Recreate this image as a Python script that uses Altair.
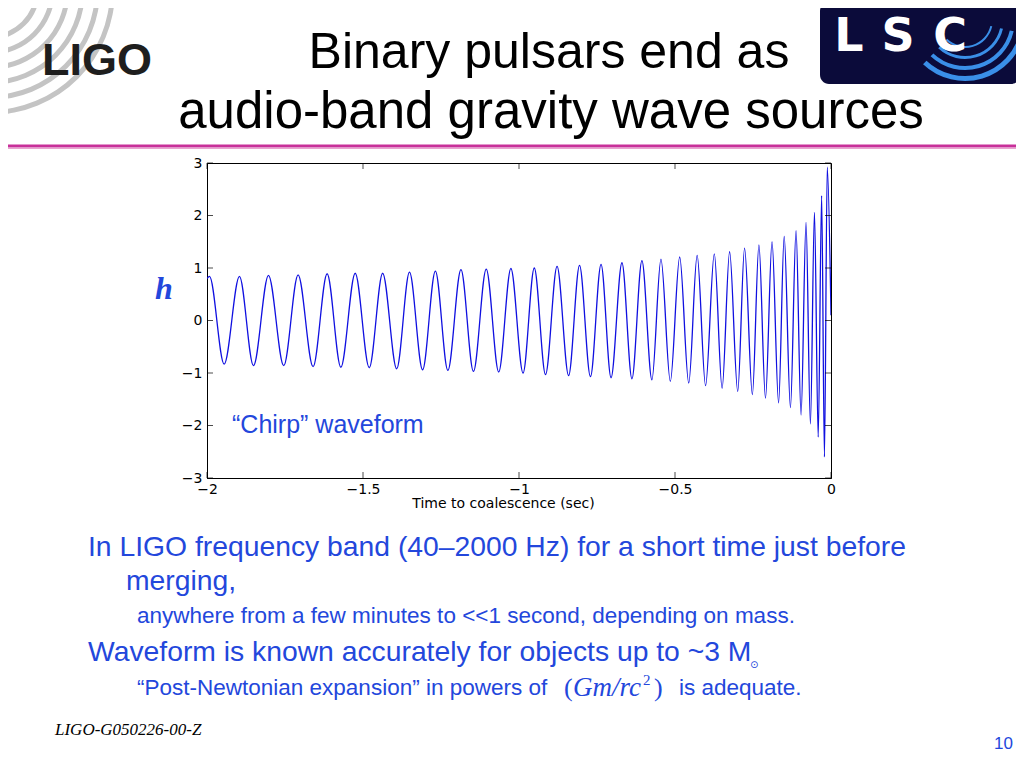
import altair as alt
import pandas as pd

# ---- data (local extrema of the chirp waveform) ----
t_ext = [-2.000, -1.992, -1.945, -1.896, -1.851, -1.803, -1.754, -1.708, -1.660, -1.615,
         -1.571, -1.525, -1.480, -1.437, -1.392, -1.351, -1.309, -1.268, -1.228, -1.186,
         -1.146, -1.105, -1.065, -1.026, -0.987, -0.951, -0.915, -0.878, -0.841, -0.806,
         -0.771, -0.737, -0.705, -0.670, -0.638, -0.606, -0.574, -0.545, -0.515, -0.485,
         -0.456, -0.429, -0.402, -0.374, -0.349, -0.325, -0.299, -0.277, -0.252, -0.231,
         -0.210, -0.189, -0.168, -0.150, -0.130, -0.112, -0.096, -0.080, -0.066, -0.053,
         -0.041, -0.030, -0.021, -0.012, 0.000]
h_ext = [0.80, 0.84, -0.83, 0.84, -0.86, 0.86, -0.86, 0.87, -0.88, 0.89,
         -0.89, 0.90, -0.90, 0.90, -0.92, 0.92, -0.94, 0.94, -0.95, 0.97,
         -0.97, 0.98, -0.98, 0.99, -1.00, 1.00, -1.03, 1.03, -1.05, 1.05,
         -1.07, 1.07, -1.09, 1.10, -1.11, 1.14, -1.13, 1.17, -1.16, 1.21,
         -1.19, 1.24, -1.24, 1.27, -1.29, 1.31, -1.35, 1.38, -1.41, 1.44,
         -1.48, 1.50, -1.57, 1.60, -1.66, 1.71, -1.80, 1.87, -1.97, 2.06,
         -2.22, 2.38, -2.60, 2.92, 0.10]
x_ticks = [-2, -1.5, -1, -0.5, 0]
y_ticks = [-3, -2, -1, 0, 1, 2, 3]
ligo_radii = [45, 60, 75, 90, 105, 120]
lsc_radii = [26, 36, 46, 56]

BLUE = "#2347dc"
SANS = "Liberation Sans"
OX, OY = 207, 163  # page position of the plot origin

wave = pd.DataFrame({"t": t_ext, "h": h_ext})

xscale = alt.Scale(domain=[-2, 0], nice=False, zero=False)
yscale = alt.Scale(domain=[-3, 3], nice=False, zero=False)

line = alt.Chart(wave).mark_line(
    interpolate="monotone", color="#1010e0", strokeWidth=1.3, clip=True
).encode(
    x=alt.X("t:Q", scale=xscale, axis=alt.Axis(
        values=x_ticks, format="~g", tickSize=0, labelPadding=4, grid=False,
        labelFont="DejaVu Sans", labelFontSize=14, labelColor="black", labelFlush=False,
        domainColor="black", title="Time to coalescence (sec)", titleFont="DejaVu Sans",
        titleFontSize=14, titleFontWeight="normal", titleColor="black", titlePadding=0,
        titleX=296, titleAlign="center")),
    y=alt.Y("h:Q", scale=yscale, axis=alt.Axis(
        values=y_ticks, format="~g", tickSize=0, labelPadding=5, grid=False,
        labelFont="DejaVu Sans", labelFontSize=14, labelColor="black", labelFlush=False,
        domainColor="black", title="")),
)

xt = pd.DataFrame({"v": x_ticks})
yt = pd.DataFrame({"v": y_ticks})
ticks = [
    alt.Chart(xt).mark_tick(orient="vertical", size=6, thickness=1, color="black").encode(
        x=alt.X("v:Q", scale=xscale), y=alt.value(312)),
    alt.Chart(xt).mark_tick(orient="vertical", size=6, thickness=1, color="black").encode(
        x=alt.X("v:Q", scale=xscale), y=alt.value(3)),
    alt.Chart(yt).mark_tick(orient="horizontal", size=6, thickness=1, color="black").encode(
        y=alt.Y("v:Q", scale=yscale), x=alt.value(3)),
    alt.Chart(yt).mark_tick(orient="horizontal", size=6, thickness=1, color="black").encode(
        y=alt.Y("v:Q", scale=yscale), x=alt.value(621)),
]

one = pd.DataFrame({"s": [""]})


def txt(s, x, y, size, color="black", font=SANS, style="normal", weight="normal",
        align="left", baseline="alphabetic"):
    return alt.Chart(pd.DataFrame({"s": [s]})).mark_text(
        fontSize=size, font=font, fontStyle=style, fontWeight=weight, color=color,
        align=align, baseline=baseline
    ).encode(text="s:N", x=alt.value(x - OX), y=alt.value(y - OY))


def ring(cx, cy, r, w, t1, t2, color):
    return alt.Chart(one).mark_arc(
        theta=t1, theta2=t2, radius=r, radius2=r + w, color=color
    ).encode(x=alt.value(cx - OX), y=alt.value(cy - OY))


deco = []
# LIGO logo arcs
for r in ligo_radii:
    deco.append(ring(-10, -10, r, 5, 1.5708, 3.1416, "#c4c4c4"))
deco.append(txt("LIGO", 42, 75, 45, color="#1e1e1e", weight="bold"))

# LSC logo
deco.append(alt.Chart(one).mark_rect(color="#0b0b3a", cornerRadius=9).encode(
    x=alt.value(820 - OX), x2=alt.value(1020 - OX), y=alt.value(2 - OY), y2=alt.value(84 - OY)))
for i, r in enumerate(lsc_radii):
    deco.append(ring(965, 20, r, 2 + i, 1.8, 3.9, "#3a8fe8"))
deco.append(txt("L", 849, 51, 46, color="white", font="DejaVu Sans", weight="bold", align="center"))
deco.append(txt("S", 898, 51, 46, color="white", font="DejaVu Sans", weight="bold", align="center"))
deco.append(txt("C", 950, 51, 46, color="white", font="DejaVu Sans", weight="bold", align="center"))

# titles and separator
deco.append(txt("Binary pulsars end as", 549, 68, 50, align="center"))
deco.append(txt("audio-band gravity wave sources", 551, 128, 51, align="center"))
deco.append(alt.Chart(one).mark_rule(color="#c8309a", strokeWidth=3).encode(
    x=alt.value(8 - OX), x2=alt.value(1016 - OX), y=alt.value(146 - OY)))
deco.append(alt.Chart(one).mark_rule(color="#e9a3cf", strokeWidth=1).encode(
    x=alt.value(8 - OX), x2=alt.value(1016 - OX), y=alt.value(148.5 - OY)))

# plot annotations
deco.append(txt("h", 164, 299, 32, color=BLUE, font="Liberation Serif", style="italic",
                weight="bold", align="center"))
deco.append(txt("\u201cChirp\u201d waveform", 232, 433, 25, color=BLUE))

# bullet text
deco.append(txt("In LIGO frequency band (40\u20132000 Hz) for a short time just before", 88, 556, 28.3, color=BLUE))
deco.append(txt("merging,", 126, 590, 28.3, color=BLUE))
deco.append(txt("anywhere from a few minutes to <<1 second, depending on mass.", 137, 623, 22.5, color=BLUE))
deco.append(txt("Waveform is known accurately for objects up to ~3 M", 88, 661, 28.3, color=BLUE))
deco.append(txt("\u2299", 750, 668, 10, color=BLUE, font="DejaVu Sans"))
deco.append(txt("\u201cPost-Newtonian expansion\u201d in powers of", 137, 695, 22.5, color=BLUE))
deco.append(txt("(", 564, 696, 26, color=BLUE, font="Liberation Serif"))
deco.append(txt("Gm/rc", 573, 696, 27, color=BLUE, font="Liberation Serif", style="italic"))
deco.append(txt("2", 643, 685, 15, color=BLUE, font="Liberation Serif"))
deco.append(txt(")", 654, 696, 26, color=BLUE, font="Liberation Serif"))
deco.append(txt("is adequate.", 679, 695, 22.5, color=BLUE))

# footer
deco.append(txt("LIGO-G050226-00-Z", 55, 735, 17, font="Liberation Serif", style="italic"))
deco.append(txt("10", 1013, 749, 17, color=BLUE, align="right"))

chart = alt.layer(*deco, line, *ticks).properties(
    width=624, height=315,
    padding={"left": 199, "top": 155, "right": 185, "bottom": 280},
    autosize=alt.AutoSizeParams(type="none"),
    background="white",
).configure_view(stroke="black", strokeWidth=1)

chart.save("out.html", embed_options={"renderer": "svg", "actions": False})
